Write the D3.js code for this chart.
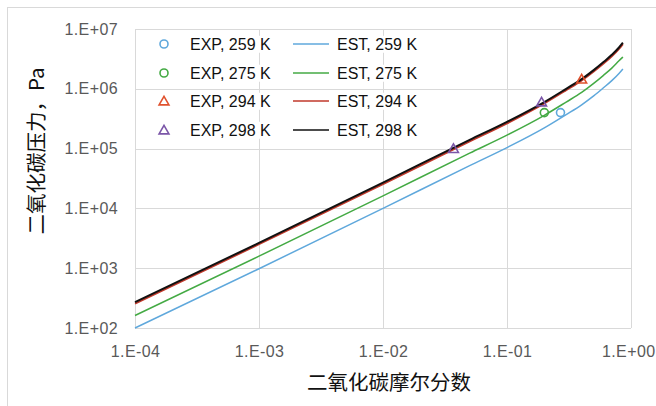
<!DOCTYPE html>
<html>
<head>
<meta charset="utf-8">
<script src="https://cdn.jsdelivr.net/npm/d3@7"></script>
<style>
  html, body { margin: 0; padding: 0; background: #fff; }
  svg { display: block; }
</style>
</head>
<body>
<svg id="chart" width="656" height="406"></svg>
<script>
// CO2 mole fraction (shared abscissa of the estimated curves)
const moleFraction = [1e-4, 1e-3, 1e-2, 0.05, 0.1, 0.2, 0.3, 0.4, 0.5, 0.6, 0.7, 0.8, 0.86];

// Estimated CO2 pressure, Pa
const est259 = [100, 980, 10000, 52000, 104000, 222000, 370000, 540000, 760000, 1040000, 1370000, 1810000, 2150000];
const est275 = [162, 1590, 16200, 84000, 168000, 360000, 600000, 870000, 1230000, 1680000, 2220000, 2940000, 3400000];
const est294 = [255, 2520, 25500, 132000, 265000, 570000, 950000, 1380000, 1950000, 2650000, 3500000, 4650000, 5600000];
const est298 = [270, 2650, 27000, 140000, 280000, 600000, 1000000, 1450000, 2050000, 2800000, 3700000, 4900000, 5900000];

// Experimental points [mole fraction, pressure Pa]
const exp259 = [[0.27, 400000]];
const exp275 = [[0.20, 400000]];
const exp294 = [[0.40, 1450000]];
const exp298 = [[0.037, 100000], [0.19, 600000]];

const xTickValues = [1e-4, 1e-3, 1e-2, 1e-1, 1];
const xTickLabels = ["1.E-04", "1.E-03", "1.E-02", "1.E-01", "1.E+00"];
const yTickValues = [1e2, 1e3, 1e4, 1e5, 1e6, 1e7];
const yTickLabels = ["1.E+02", "1.E+03", "1.E+04", "1.E+05", "1.E+06", "1.E+07"];

const expLabels = ["EXP, 259 K", "EXP, 275 K", "EXP, 294 K", "EXP, 298 K"];
const estLabels = ["EST, 259 K", "EST, 275 K", "EST, 294 K", "EST, 298 K"];

const colors = {
  blue: "#5fa8dc", green: "#44aa44", red: "#c0392b", black: "#111111",
  redMark: "#e0522e", purple: "#7b56a8"
};

const W = 656;
const svg = d3.select("#chart");
const font = "'Liberation Sans', Arial, sans-serif";
const cjk = "'Noto Sans CJK SC', 'Liberation Sans', sans-serif";

// outer chart frame
svg.append("rect")
  .attr("x", 7.5).attr("y", 7.5).attr("width", 700).attr("height", 500)
  .attr("fill", "#fff").attr("stroke", "#d9d9d9").attr("stroke-width", 1);

const x = d3.scaleLog().domain([1e-4, 1]).range([135, 631]);
const y = d3.scaleLog().domain([1e2, 1e7]).range([328, 29]);

// gridlines
const grid = svg.append("g").attr("stroke", "#d9d9d9").attr("stroke-width", 1);
xTickValues.forEach(v => {
  grid.append("line")
    .attr("x1", Math.round(x(v)) + 0.5).attr("x2", Math.round(x(v)) + 0.5)
    .attr("y1", y(1e7)).attr("y2", y(1e2));
});
yTickValues.forEach(v => {
  grid.append("line")
    .attr("x1", x(1e-4)).attr("x2", x(1))
    .attr("y1", Math.round(y(v)) + 0.5).attr("y2", Math.round(y(v)) + 0.5);
});

// axes (labels only; lines are drawn as grid)
const xAxis = d3.axisBottom(x)
  .tickValues(xTickValues)
  .tickFormat((d, i) => xTickLabels[i])
  .tickSize(0).tickPadding(0);
const gx = svg.append("g").attr("transform", "translate(0,346)").call(xAxis);
gx.select(".domain").remove();
gx.selectAll("text")
  .attr("dy", "0.71em")
  .attr("fill", "#595959")
  .style("font-family", font).style("font-size", "16px").style("letter-spacing", "0.4px");
// keep the last label inside the frame
gx.selectAll(".tick text").each(function () {
  const bb = this.getBBox();
  const tx = x(+d3.select(this.parentNode).datum());
  const overflow = tx + bb.x + bb.width - (W - 1);
  if (overflow > 0) d3.select(this).attr("x", -overflow);
});

const yAxis = d3.axisLeft(y)
  .tickValues(yTickValues)
  .tickFormat((d, i) => yTickLabels[i])
  .tickSize(0).tickPadding(0);
const gy = svg.append("g").attr("transform", "translate(118,0)").call(yAxis);
gy.select(".domain").remove();
gy.selectAll("text")
  .attr("fill", "#595959")
  .style("font-family", font).style("font-size", "16px").style("letter-spacing", "0.4px");

// estimated curves
const line = d3.line()
  .x((d, i) => x(moleFraction[i]))
  .y(d => y(d))
  .curve(d3.curveMonotoneX);

const curves = [
  { data: est259, color: colors.blue, w: 1.5 },
  { data: est275, color: colors.green, w: 1.5 },
  { data: est294, color: colors.red, w: 2 },
  { data: est298, color: colors.black, w: 2 }
];
const gl = svg.append("g").attr("fill", "none");
curves.forEach(c => {
  gl.append("path").attr("d", line(c.data))
    .attr("stroke", c.color).attr("stroke-width", c.w);
});

// experimental markers
const tri = d3.symbol().type(d3.symbolTriangle).size(42);
function circleMark(g, cx, cy, color) {
  g.append("circle").attr("cx", cx).attr("cy", cy).attr("r", 4)
    .attr("fill", "none").attr("stroke", color).attr("stroke-width", 1.6);
}
function triMark(g, cx, cy, color) {
  g.append("path").attr("d", tri()).attr("transform", `translate(${cx},${cy + 1})`)
    .attr("fill", "none").attr("stroke", color).attr("stroke-width", 1.6);
}
const gm = svg.append("g");
exp259.forEach(d => circleMark(gm, x(d[0]), y(d[1]), colors.blue));
exp275.forEach(d => circleMark(gm, x(d[0]), y(d[1]), colors.green));
exp294.forEach(d => triMark(gm, x(d[0]), y(d[1]), colors.redMark));
exp298.forEach(d => triMark(gm, x(d[0]), y(d[1]), colors.purple));

// legend
const legendY = [44, 73, 101, 130];
const markColors = [colors.blue, colors.green, colors.redMark, colors.purple];
const lineColors = [colors.blue, colors.green, colors.red, colors.black];
const gLeg = svg.append("g");
legendY.forEach((ly, i) => {
  if (i < 2) circleMark(gLeg, 164, ly, markColors[i]);
  else triMark(gLeg, 164, ly, markColors[i]);
  gLeg.append("line").attr("x1", 293).attr("x2", 329).attr("y1", ly).attr("y2", ly)
    .attr("stroke", lineColors[i]).attr("stroke-width", 1.5);
  [[190, expLabels[i]], [337, estLabels[i]]].forEach(([tx, label]) => {
    const t = gLeg.append("text").attr("x", tx).attr("y", ly).attr("dy", "0.36em")
      .attr("fill", "#111").style("font-family", font).style("font-size", "16px")
      .text(label);
    const bb = t.node().getBBox();
    gLeg.insert("rect", () => t.node())
      .attr("x", bb.x - 1).attr("y", bb.y).attr("width", bb.width + 2).attr("height", bb.height)
      .attr("fill", "#fff");
  });
});

// axis titles
svg.append("text")
  .attr("x", 389).attr("y", 383).attr("dy", "0.35em")
  .attr("text-anchor", "middle").attr("fill", "#111")
  .style("font-family", cjk).style("font-size", "20.5px")
  .text("二氧化碳摩尔分数");
svg.append("text")
  .attr("transform", "translate(37,151) rotate(-90)")
  .attr("dy", "0.35em")
  .attr("text-anchor", "middle").attr("fill", "#111")
  .style("font-family", cjk).style("font-size", "20.5px")
  .text("二氧化碳压力，Pa");
</script>
</body>
</html>
